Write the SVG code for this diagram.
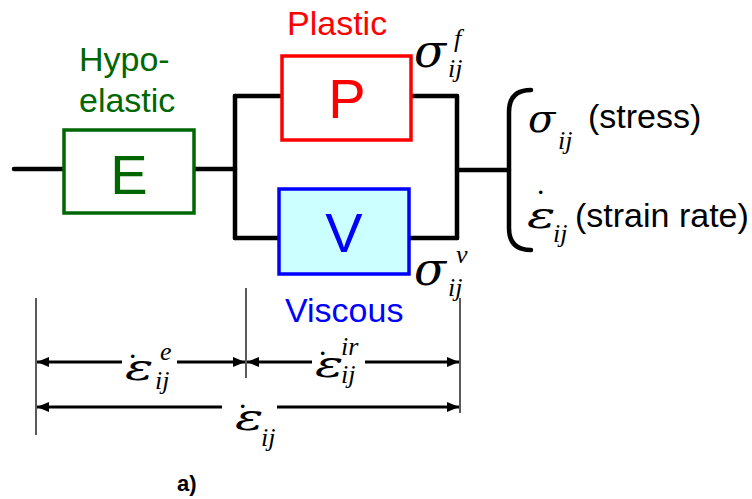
<svg xmlns="http://www.w3.org/2000/svg" width="752" height="499" viewBox="0 0 752 499">
<defs>
<marker id="ah" viewBox="0 0 12 10" refX="12" refY="5" markerWidth="12" markerHeight="10" markerUnits="userSpaceOnUse" orient="auto-start-reverse">
<path d="M0,0 L12,5 L0,10 Z" fill="#000"/>
</marker>
</defs>
<style>
.wire{stroke:#000;stroke-width:4.5;stroke-linecap:round;fill:none}
.dim{stroke:#000;stroke-width:1.3;fill:none}
.arr{stroke:#000;stroke-width:3;fill:none}
.lbl{font-family:"Liberation Sans",Arial,sans-serif;font-size:34px}
.big{font-family:"Liberation Sans",Arial,sans-serif;font-size:56px}
.g{font-family:"DejaVu Serif","Liberation Serif",serif;font-style:italic}
.m{font-family:"Liberation Serif","Times New Roman",serif;font-style:italic}
.sig{font-size:47px}
.eps{font-size:38px}
.sub{font-size:26px}
.dot{font-family:"Liberation Serif","Times New Roman",serif;font-size:34px}
</style>
<rect width="752" height="499" fill="#fff"/>
<g id="connectors">
<line class="wire" x1="14" y1="169" x2="64" y2="169"/>
<line class="wire" x1="194" y1="169" x2="235" y2="169"/>
<line class="wire" x1="235" y1="96" x2="235" y2="238"/>
<line class="wire" x1="235" y1="96" x2="282" y2="96"/>
<line class="wire" x1="235" y1="238" x2="279" y2="238"/>
<line class="wire" x1="411" y1="96" x2="457" y2="96"/>
<line class="wire" x1="409" y1="238" x2="457" y2="238"/>
<line class="wire" x1="457" y1="96" x2="457" y2="238"/>
<line class="wire" x1="457" y1="170" x2="509" y2="170"/>
<path class="wire" d="M531,90 Q509,90 509,112 L509,228 Q509,250 531,250" stroke-width="4"/>
</g>
<g id="node-E">
<text class="lbl" x="79" y="71" fill="#006600">Hypo-</text>
<text class="lbl" x="79" y="112" fill="#006600">elastic</text>
<rect x="64" y="130" width="130" height="83" fill="#fff" stroke="#006600" stroke-width="3.5"/>
<text class="big" x="129" y="194" text-anchor="middle" fill="#006600">E</text>
</g>
<g id="node-P">
<text class="lbl" x="287" y="35" fill="#ff0000">Plastic</text>
<rect x="282" y="56" width="129" height="84" fill="#fff" stroke="#ff0000" stroke-width="3.5"/>
<text class="big" x="347" y="118" text-anchor="middle" fill="#ff0000">P</text>
<text class="g sig" x="414" y="67">σ</text>
<text class="m sub" x="454" y="47">f</text>
<text class="m sub" x="448" y="77">ij</text>
</g>
<g id="node-V">
<rect x="279" y="189" width="130" height="85" fill="#ccffff" stroke="#0000ff" stroke-width="3.5"/>
<text class="big" x="344" y="252" text-anchor="middle" fill="#0000ff">V</text>
<text class="lbl" x="285" y="322" fill="#0000ff">Viscous</text>
<text class="g sig" x="414" y="285">σ</text>
<text class="m sub" x="456" y="263">v</text>
<text class="m sub" x="448" y="296">ij</text>
</g>
<g id="outputs">
<text class="g" x="528" y="132" font-size="40">σ</text>
<text class="m sub" x="558" y="149" font-size="24">ij</text>
<text class="lbl" x="588" y="128" font-size="32">(stress)</text>
<text class="g eps" transform="matrix(1.4 0 0 1 527 228)">ε</text>
<text class="dot" x="535" y="213">˙</text>
<text class="m sub" x="553" y="242" font-size="24">ij</text>
<text class="lbl" x="575" y="227" font-size="32">(strain rate)</text>
</g>
<g id="dimensions">
<line class="dim" x1="36" y1="298" x2="36" y2="435"/>
<line class="dim" x1="246" y1="288" x2="246" y2="378"/>
<line class="dim" x1="460" y1="298" x2="460" y2="413"/>
<line class="arr" x1="122" y1="362" x2="37" y2="362" marker-end="url(#ah)"/>
<line class="arr" x1="177" y1="362" x2="245" y2="362" marker-end="url(#ah)"/>
<line class="arr" x1="312" y1="362" x2="247" y2="362" marker-end="url(#ah)"/>
<line class="arr" x1="365" y1="362" x2="459" y2="362" marker-end="url(#ah)"/>
<line class="arr" x1="222" y1="407" x2="37" y2="407" marker-end="url(#ah)"/>
<line class="arr" x1="277" y1="407" x2="459" y2="407" marker-end="url(#ah)"/>
<text class="g eps" transform="matrix(1.4 0 0 1 125 380)">ε</text>
<text class="dot" x="127" y="377">˙</text>
<text class="m sub" x="160" y="360">e</text>
<text class="m sub" x="155" y="389">ij</text>
<text class="g eps" transform="matrix(1.4 0 0 1 315 377)">ε</text>
<text class="dot" x="317" y="374">˙</text>
<text class="m sub" x="341" y="355">ir</text>
<text class="m sub" x="341" y="383">ij</text>
<text class="g eps" transform="matrix(1.4 0 0 1 235 430)">ε</text>
<text class="dot" x="237" y="427">˙</text>
<text class="m sub" x="261" y="446">ij</text>
<text x="177" y="491" font-family="Liberation Sans,Arial,sans-serif" font-weight="bold" font-size="22">a)</text>
</g>
</svg>
